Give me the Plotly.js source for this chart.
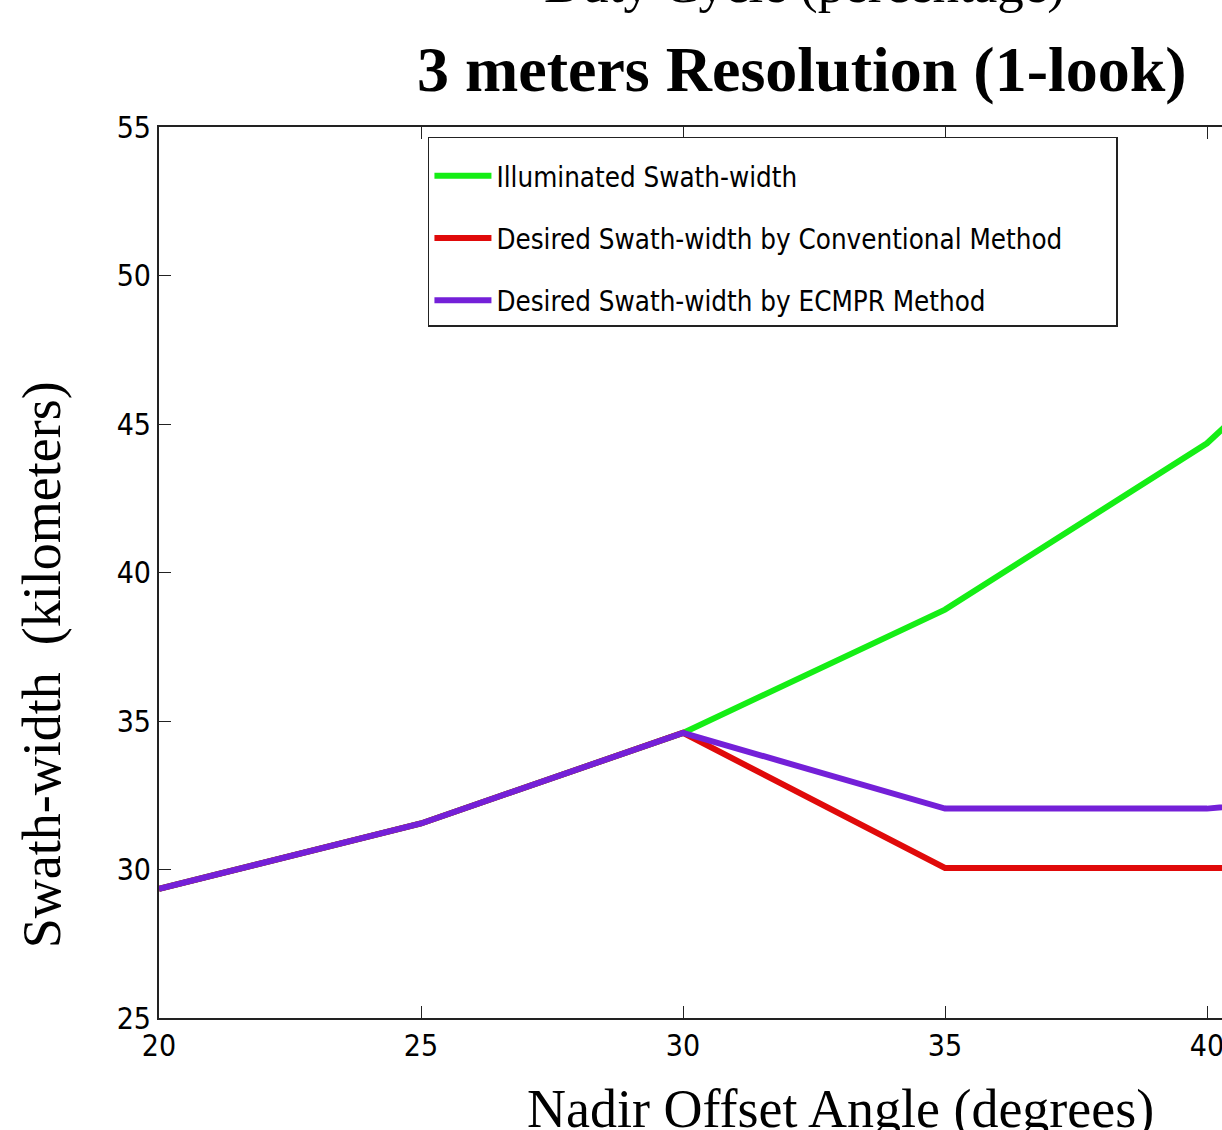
<!DOCTYPE html>
<html>
<head>
<meta charset="utf-8">
<script src="https://cdn.plot.ly/plotly-3.0.1.min.js"></script>
<style>
html,body{margin:0;padding:0;overflow:hidden;background:#fff;width:1222px;height:1130px;}
#chart{width:1500px;height:1130px;}
</style>
</head>
<body>
<div id="chart"></div>
<script>
// Data
const nadirAngle = [20, 25, 30, 35, 40, 45];
const illuminatedSwath = [29.35, 31.55, 34.6, 38.75, 44.35, 52.5];
const conventionalSwath = [29.35, 31.55, 34.6, 30.05, 30.05, 30.05];
const ecmprSwath = [29.35, 31.55, 34.6, 32.05, 32.05, 32.8];
const seriesNames = [
  "Illuminated Swath-width",
  "Desired Swath-width by Conventional Method",
  "Desired Swath-width by ECMPR Method"
];
const xTicks = [20, 25, 30, 35, 40, 45];
const yTicks = [25, 30, 35, 40, 45, 50, 55];

const narrow = "DejaVu Sans Condensed, Liberation Sans Narrow, Arial Narrow, sans-serif";
const serif = "Liberation Serif, Times New Roman, DejaVu Serif, serif";

const traces = [
  {x: nadirAngle, y: illuminatedSwath, name: seriesNames[0], mode: "lines",
   line: {color: "#15ee15", width: 6}, legendgroup: "g1"},
  {x: nadirAngle, y: conventionalSwath, name: seriesNames[1], mode: "lines",
   line: {color: "#e00a0a", width: 6}, legendgroup: "g2"},
  {x: nadirAngle, y: ecmprSwath, name: seriesNames[2], mode: "lines",
   line: {color: "#7420d8", width: 6}, legendgroup: "g3"}
];

const axisCommon = {
  showgrid: false, zeroline: false, showline: true, linecolor: "#222", linewidth: 2,
  mirror: "allticks", ticks: "inside", ticklen: 12, tickwidth: 1, tickcolor: "#222",
  tickfont: {family: narrow, size: 30, color: "#000"}
};

const layout = {
  width: 1500, height: 1130,
  margin: {l: 159, r: 31, t: 127, b: 112},
  paper_bgcolor: "#fff", plot_bgcolor: "#fff",
  showlegend: true,
  xaxis: Object.assign({}, axisCommon, {range: [20, 45], tickvals: xTicks, ticktext: xTicks.map(String)}),
  yaxis: Object.assign({}, axisCommon, {range: [25, 55], tickvals: yTicks, ticktext: yTicks.map(String),
    ticklabelstandoff: 0}),
  legend: {
    x: 0.2053, y: 0.9888, xanchor: "left", yanchor: "top",
    bgcolor: "#fff", bordercolor: "#222", borderwidth: 1.5,
    font: {family: narrow, size: 27.5, color: "#000"},
    traceorder: "grouped", tracegroupgap: 23.5, itemwidth: 57,
    title: {text: "\u00a0".repeat(239), font: {size: 10}}
  },
  annotations: [
    {text: "Duty Cycle (percentage)", xref: "paper", yref: "paper", x: 0.4931, y: 1.1245,
     xanchor: "center", yanchor: "bottom", showarrow: false,
     font: {family: serif, size: 53, color: "#000"}},
    {text: "<b>3 meters Resolution (1-look)</b>", xref: "paper", yref: "paper", x: 0.4908, y: 1.064,
     xanchor: "center", yanchor: "middle", showarrow: false,
     font: {family: serif, size: 64, color: "#000"}},
    {text: "Nadir Offset Angle (degrees)", xref: "paper", yref: "paper", x: 0.5206, y: -0.066,
     xanchor: "center", yanchor: "top", showarrow: false,
     font: {family: serif, size: 54, color: "#000"}},
    {text: "Swath-width  (kilometers)", xref: "paper", yref: "paper", x: -0.0893, y: 0.396,
     xanchor: "center", yanchor: "middle", textangle: -90, showarrow: false,
     font: {family: serif, size: 54, color: "#000"}}
  ]
};

Plotly.newPlot("chart", traces, layout, {displayModeBar: false, staticPlot: true});
</script>
</body>
</html>
